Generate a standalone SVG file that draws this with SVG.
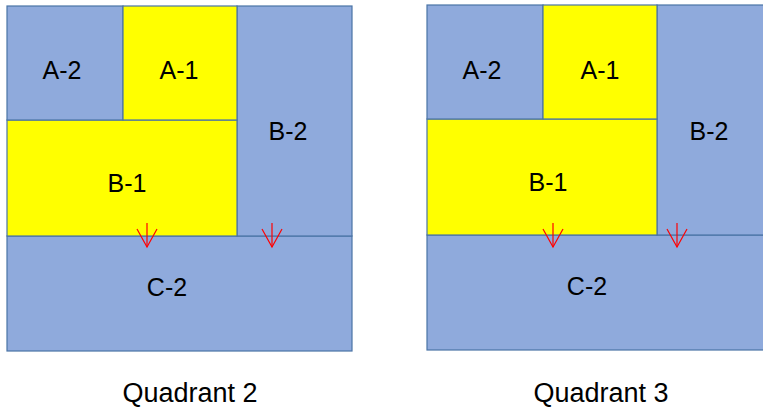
<svg xmlns="http://www.w3.org/2000/svg" width="763" height="413" viewBox="0 0 763 413">
<style>
.blue{fill:#8FAADC;stroke:#4A74A6;stroke-width:1.2}
.yel{fill:#FFFF00;stroke:#4A74A6;stroke-width:1.2}
.lbl{font-family:"Liberation Sans",Arial,sans-serif;font-size:25px;fill:#000;text-anchor:middle}
.cap{font-family:"Liberation Sans",Arial,sans-serif;font-size:27px;fill:#000;text-anchor:middle}
.arr{stroke:#FF0000;stroke-width:1.2;fill:none;marker-end:url(#v)}
</style>
<defs>
<marker id="v" markerUnits="userSpaceOnUse" viewBox="-1 -1 21 22" markerWidth="21" markerHeight="22" refX="18" refY="10" orient="auto">
<path d="M0,0 L18,10 L0,20" fill="none" stroke="#FF0000" stroke-width="1.2"/>
</marker>
</defs>
<rect width="763" height="413" fill="#fff"/>
<g id="q2">
<g id="q2-c2"><rect class="blue" x="7" y="236" width="345" height="115"/><text class="lbl" x="167" y="296">C-2</text></g>
<g id="q2-b2"><rect class="blue" x="237" y="6" width="115" height="230"/><text class="lbl" x="288" y="140">B-2</text></g>
<g id="q2-b1"><rect class="yel" x="7" y="120" width="230" height="116"/><text class="lbl" x="127" y="192">B-1</text></g>
<g id="q2-a2"><rect class="blue" x="7" y="6" width="116" height="114"/><text class="lbl" x="62" y="79">A-2</text></g>
<g id="q2-a1"><rect class="yel" x="123" y="6" width="114" height="114"/><text class="lbl" x="179" y="79">A-1</text></g>
<text id="q2-title" class="cap" x="190" y="402">Quadrant 2</text>
</g>
<g id="q3">
<g id="q3-c2"><rect class="blue" x="427" y="235" width="345" height="115"/><text class="lbl" x="587" y="295">C-2</text></g>
<g id="q3-b2"><rect class="blue" x="657" y="5" width="115" height="230"/><text class="lbl" x="709" y="140">B-2</text></g>
<g id="q3-b1"><rect class="yel" x="427" y="119" width="230" height="116"/><text class="lbl" x="548" y="191">B-1</text></g>
<g id="q3-a2"><rect class="blue" x="427" y="5" width="116" height="114"/><text class="lbl" x="482" y="79">A-2</text></g>
<g id="q3-a1"><rect class="yel" x="543" y="5" width="114" height="114"/><text class="lbl" x="600" y="79">A-1</text></g>
<text id="q3-title" class="cap" x="601" y="402">Quadrant 3</text>
</g>
<g id="connectors">
<line class="arr" x1="147" y1="223" x2="147" y2="247"/>
<line class="arr" x1="272" y1="223" x2="272" y2="247"/>
<line class="arr" x1="553" y1="223" x2="553" y2="247"/>
<line class="arr" x1="677" y1="223" x2="677" y2="247"/>
</g>
</svg>
